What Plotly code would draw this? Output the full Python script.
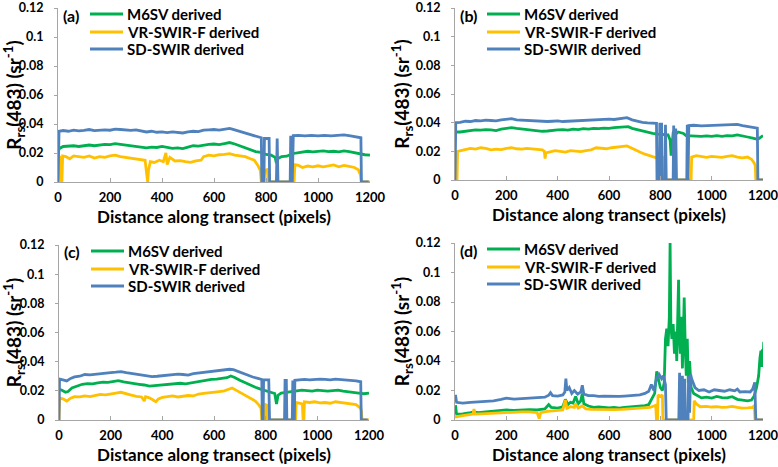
import plotly.graph_objects as go

# ---------------- data (x pixel along transect, Rrs(483)) ----------------
a_m6sv = [(0,0.019),(4,0.023),(20,0.0245),(40,0.0248),(60,0.025),(80,0.0245),(100,0.025),(120,0.0255),(140,0.025),(160,0.0255),(180,0.026),(200,0.0258),(220,0.0265),(240,0.026),(260,0.0255),(280,0.025),(300,0.0245),(320,0.024),(340,0.0235),(360,0.024),(380,0.0238),(400,0.0245),(420,0.024),(440,0.0232),(460,0.0235),(480,0.023),(500,0.024),(520,0.025),(540,0.0248),(560,0.0255),(580,0.026),(600,0.0262),(620,0.0258),(640,0.0265),(660,0.0272),(680,0.0262),(700,0.025),(720,0.0235),(740,0.0225),(760,0.021),(780,0.0205),(800,0.019),(820,0.0185),(835,0.017),(840,0.013),(845,0.016),(860,0.0175),(880,0.0178),(900,0.0195),(920,0.02),(940,0.0205),(960,0.0212),(980,0.0208),(1000,0.021),(1020,0.0215),(1040,0.021),(1060,0.0212),(1080,0.0208),(1100,0.0215),(1120,0.021),(1140,0.0202),(1160,0.0195),(1170,0.019),(1180,0.0188),(1200,0.0185)]
a_vr = [(0,0),(3,0.018),(8,0.017),(12,0),(15,0),(18,0.018),(30,0.0175),(45,0.016),(60,0.018),(80,0.0175),(100,0.017),(120,0.018),(140,0.0165),(160,0.0175),(180,0.017),(200,0.018),(220,0.0185),(240,0.0175),(260,0.017),(280,0.0168),(300,0.016),(320,0.0158),(335,0.015),(342,0.004),(345,0),(348,0.008),(355,0.014),(370,0.0135),(390,0.015),(405,0.014),(415,0.02),(420,0.012),(430,0.017),(450,0.0145),(470,0.0148),(490,0.014),(510,0.0135),(530,0.0145),(550,0.015),(560,0.0175),(580,0.0185),(600,0.018),(620,0.0188),(640,0.019),(660,0.0195),(680,0.0185),(700,0.018),(720,0.0175),(740,0.016),(755,0.015),(770,0.011),(778,0.008),(782,0),(792,0),(795,0.008),(805,0.0085),(808,0),(908,0),(911,0.012),(925,0.0115),(940,0.01),(960,0.011),(980,0.0105),(1000,0.0112),(1020,0.0105),(1040,0.011),(1060,0.0118),(1080,0.0105),(1100,0.0115),(1120,0.0108),(1140,0.01),(1155,0.0085),(1163,0.005),(1166,0),(1200,0)]
a_sd = [(0,0),(4,0.035),(20,0.0355),(40,0.035),(60,0.0358),(80,0.0352),(100,0.0356),(120,0.0362),(140,0.0355),(160,0.0358),(180,0.036),(200,0.0357),(220,0.0365),(240,0.0362),(260,0.0358),(280,0.0356),(300,0.036),(320,0.0352),(340,0.0345),(360,0.035),(380,0.0343),(400,0.0346),(420,0.034),(440,0.0345),(460,0.034),(480,0.0338),(500,0.0345),(520,0.035),(540,0.0348),(560,0.0358),(580,0.036),(600,0.0362),(620,0.0358),(640,0.0365),(660,0.037),(670,0.0365),(690,0.0355),(710,0.0345),(730,0.0335),(750,0.0325),(770,0.031),(782,0.0305),(784,0),(792,0),(794,0.03),(812,0.03),(814,0),(840,0),(843,0.03),(846,0),(893,0),(895,0.031),(899,0.031),(901,0),(905,0.032),(925,0.0322),(950,0.0318),(975,0.0322),(1000,0.0318),(1025,0.0322),(1050,0.0318),(1075,0.032),(1100,0.0325),(1125,0.0318),(1150,0.031),(1165,0.0305),(1167,0),(1195,0)]

b_m6sv = [(0,0.033),(5,0.0335),(20,0.0335),(40,0.034),(60,0.0345),(80,0.035),(100,0.0348),(120,0.0352),(140,0.035),(160,0.0345),(180,0.0355),(200,0.036),(220,0.0365),(240,0.036),(260,0.0355),(280,0.0352),(300,0.035),(320,0.0345),(340,0.034),(360,0.0342),(380,0.0348),(400,0.035),(420,0.0352),(440,0.0348),(460,0.0355),(480,0.0352),(500,0.0358),(520,0.0355),(540,0.036),(560,0.0358),(580,0.0362),(600,0.036),(620,0.0365),(640,0.0368),(660,0.037),(675,0.0372),(690,0.036),(710,0.035),(730,0.034),(750,0.0332),(770,0.0325),(790,0.032),(810,0.0318),(830,0.0315),(838,0.028),(842,0.017),(846,0.025),(850,0.033),(855,0.0345),(860,0.032),(870,0.0335),(880,0.033),(890,0.0325),(900,0.031),(920,0.0308),(940,0.031),(960,0.0305),(980,0.0308),(1000,0.0305),(1020,0.031),(1040,0.0305),(1060,0.031),(1080,0.0308),(1100,0.0315),(1120,0.0305),(1140,0.03),(1160,0.0292),(1175,0.0285),(1185,0.029),(1200,0.031)]
b_vr = [(0,0),(8,0),(10,0.02),(20,0.0205),(40,0.021),(60,0.022),(80,0.0215),(100,0.0225),(120,0.022),(140,0.021),(160,0.0215),(180,0.0212),(200,0.022),(220,0.0225),(240,0.0218),(260,0.0215),(280,0.022),(300,0.0218),(320,0.0212),(340,0.021),(348,0.02),(351,0.015),(354,0.019),(370,0.0195),(390,0.0205),(410,0.02),(430,0.0195),(450,0.0205),(470,0.0202),(490,0.0198),(510,0.0205),(530,0.021),(550,0.0225),(570,0.022),(590,0.0218),(610,0.0225),(630,0.0228),(650,0.0232),(670,0.0238),(685,0.0225),(700,0.021),(720,0.0195),(740,0.018),(760,0.017),(780,0.016),(795,0.0148),(800,0.014),(802,0),(812,0),(814,0.016),(818,0.016),(820,0),(920,0),(922,0.016),(940,0.017),(960,0.0165),(980,0.0158),(1000,0.0165),(1020,0.016),(1040,0.0158),(1060,0.0165),(1080,0.017),(1100,0.016),(1120,0.0155),(1140,0.016),(1155,0.0145),(1165,0.012),(1170,0.01),(1172,0),(1200,0)]
b_sd = [(0,0),(3,0.04),(20,0.0402),(40,0.041),(60,0.0408),(80,0.0415),(100,0.0412),(120,0.0418),(140,0.0415),(160,0.0412),(180,0.042),(200,0.0425),(220,0.0428),(240,0.042),(260,0.0418),(280,0.0415),(300,0.0412),(320,0.041),(340,0.0405),(360,0.0408),(380,0.041),(400,0.0412),(420,0.0408),(440,0.041),(460,0.0412),(480,0.0415),(500,0.0418),(520,0.042),(540,0.0418),(560,0.042),(580,0.0422),(600,0.0425),(620,0.0422),(640,0.0428),(660,0.043),(670,0.0435),(690,0.042),(710,0.041),(730,0.0402),(750,0.0398),(770,0.0395),(785,0.0395),(787,0),(796,0),(798,0.039),(805,0.039),(807,0),(818,0),(820,0.0385),(823,0),(850,0),(852,0.038),(855,0),(860,0.036),(863,0),(903,0),(905,0.0385),(908,0),(911,0.038),(930,0.0382),(960,0.0378),(990,0.038),(1020,0.0378),(1050,0.0382),(1080,0.0385),(1100,0.0388),(1120,0.038),(1140,0.0372),(1160,0.0368),(1178,0.0362),(1180,0),(1200,0)]

c_m6sv = [(0,0.021),(10,0.0205),(25,0.019),(35,0.0195),(50,0.022),(70,0.0235),(90,0.0245),(110,0.025),(130,0.0248),(150,0.0255),(170,0.026),(190,0.0258),(210,0.0265),(230,0.027),(250,0.0262),(270,0.0258),(290,0.025),(310,0.0245),(330,0.024),(350,0.0232),(370,0.0235),(390,0.0238),(410,0.0245),(430,0.0248),(450,0.025),(470,0.0252),(490,0.0248),(510,0.0255),(530,0.026),(550,0.0268),(570,0.0275),(590,0.0278),(610,0.028),(630,0.0285),(650,0.029),(665,0.0302),(680,0.0292),(700,0.0272),(720,0.0255),(740,0.0238),(760,0.0225),(780,0.0212),(800,0.02),(820,0.0192),(835,0.0182),(842,0.011),(848,0.017),(860,0.0185),(880,0.019),(900,0.0198),(920,0.02),(940,0.0205),(960,0.0202),(980,0.0198),(1000,0.0205),(1020,0.02),(1040,0.0198),(1060,0.0202),(1080,0.0205),(1100,0.0198),(1120,0.0195),(1140,0.019),(1160,0.0185),(1180,0.018),(1200,0.0185)]
c_vr = [(0,0),(2,0.015),(15,0.0145),(30,0.013),(45,0.015),(60,0.016),(80,0.0158),(100,0.0165),(120,0.016),(140,0.017),(160,0.0175),(180,0.0172),(200,0.018),(220,0.0185),(240,0.019),(260,0.0178),(280,0.017),(300,0.0162),(320,0.0158),(330,0.013),(335,0.016),(350,0.0152),(365,0.0135),(375,0.0125),(385,0.0145),(400,0.0155),(420,0.016),(440,0.0165),(460,0.0158),(480,0.0162),(500,0.0168),(520,0.0165),(540,0.0178),(560,0.0182),(580,0.0188),(600,0.019),(620,0.0195),(640,0.02),(660,0.0215),(670,0.022),(685,0.0205),(700,0.019),(720,0.0175),(740,0.0155),(760,0.013),(775,0.01),(782,0.008),(785,0),(798,0),(800,0.0105),(806,0.01),(808,0),(916,0),(918,0.012),(930,0.0115),(942,0.011),(945,0),(948,0),(950,0.0125),(970,0.012),(990,0.0125),(1010,0.0118),(1030,0.012),(1050,0.0115),(1070,0.0125),(1090,0.012),(1110,0.0118),(1130,0.0115),(1150,0.0105),(1165,0.0085),(1170,0.007),(1173,0),(1200,0)]
c_sd = [(0,0),(2,0.028),(15,0.0275),(30,0.0268),(45,0.0285),(60,0.0295),(80,0.03),(100,0.0312),(120,0.031),(140,0.0315),(160,0.0318),(180,0.032),(200,0.0325),(220,0.0328),(240,0.0332),(260,0.0325),(280,0.032),(300,0.031),(320,0.0305),(340,0.0302),(360,0.0298),(380,0.03),(400,0.0305),(420,0.0308),(440,0.031),(460,0.0315),(480,0.0312),(500,0.0308),(520,0.0318),(540,0.0322),(560,0.033),(580,0.0335),(600,0.0338),(620,0.034),(640,0.0342),(660,0.0348),(675,0.0345),(690,0.0335),(710,0.032),(730,0.0305),(750,0.0295),(770,0.0285),(785,0.0278),(787,0),(790,0),(792,0.0275),(812,0.0275),(815,0),(873,0),(875,0.0272),(880,0.0272),(882,0),(903,0),(905,0.027),(908,0),(911,0),(913,0.0272),(930,0.0275),(950,0.0278),(970,0.0275),(990,0.0278),(1010,0.028),(1030,0.0278),(1050,0.0275),(1070,0.028),(1090,0.0278),(1110,0.0275),(1130,0.0272),(1150,0.0268),(1168,0.0262),(1170,0),(1195,0)]

d_m6sv = [(0,0.004),(2,0.01),(6,0.004),(30,0.0042),(60,0.005),(75,0.0055),(90,0.005),(120,0.0055),(150,0.006),(180,0.0062),(200,0.0068),(230,0.0065),(260,0.0068),(290,0.007),(320,0.0068),(350,0.0075),(365,0.0105),(375,0.0085),(400,0.008),(420,0.009),(430,0.014),(440,0.0105),(450,0.012),(460,0.0115),(470,0.016),(480,0.011),(490,0.013),(496,0.018),(502,0.011),(520,0.0095),(540,0.0085),(560,0.0088),(580,0.0085),(600,0.0082),(620,0.0085),(640,0.008),(660,0.0085),(680,0.0088),(700,0.009),(720,0.0092),(740,0.0098),(755,0.0105),(768,0.015),(778,0.018),(786,0.033),(792,0.028),(800,0.022),(808,0.02),(815,0.025),(820,0.055),(825,0.062),(830,0.05),(835,0.07),(838,0.12),(841,0.065),(845,0.055),(850,0.065),(855,0.045),(860,0.06),(864,0.04),(868,0.07),(871,0.095),(874,0.06),(878,0.045),(882,0.07),(886,0.035),(890,0.06),(893,0.083),(897,0.05),(901,0.03),(905,0.055),(909,0.025),(914,0.04),(920,0.022),(930,0.018),(945,0.0165),(960,0.015),(980,0.0155),(1000,0.0148),(1020,0.016),(1040,0.0152),(1060,0.015),(1080,0.0158),(1100,0.014),(1120,0.0135),(1140,0.013),(1155,0.0135),(1165,0.016),(1175,0.022),(1183,0.03),(1188,0.042),(1192,0.047),(1195,0.036),(1198,0.048),(1200,0.04),(1203,0.053)]
d_vr = [(0,0.002),(10,0.0025),(30,0.003),(50,0.0035),(70,0.004),(74,0.0075),(78,0.004),(100,0.0042),(130,0.0045),(160,0.0048),(200,0.005),(230,0.0052),(260,0.0055),(290,0.0055),(320,0.005),(328,0.001),(334,0.005),(360,0.0058),(380,0.006),(400,0.0062),(420,0.0068),(430,0.0135),(436,0.008),(450,0.009),(465,0.0085),(470,0.011),(480,0.008),(495,0.0095),(510,0.0075),(530,0.0072),(560,0.007),(590,0.0072),(620,0.007),(650,0.0072),(680,0.0075),(710,0.0075),(740,0.008),(760,0.0085),(775,0.0095),(782,0.01),(785,0),(789,0),(791,0.017),(800,0.016),(808,0.017),(810,0),(930,0),(932,0.013),(940,0.011),(955,0.009),(980,0.0092),(1000,0.0088),(1020,0.009),(1040,0.0085),(1060,0.0088),(1080,0.0092),(1100,0.0085),(1120,0.008),(1140,0.0082),(1160,0.0085),(1166,0.01),(1169,0),(1200,0)]
d_sd = [(0,0.012),(2,0.017),(6,0.012),(30,0.0115),(60,0.012),(90,0.0122),(120,0.0128),(150,0.013),(180,0.014),(200,0.0148),(230,0.0142),(260,0.0145),(290,0.015),(320,0.0148),(350,0.0155),(365,0.0168),(372,0.0185),(380,0.0165),(400,0.0162),(420,0.017),(428,0.019),(432,0.028),(436,0.02),(445,0.022),(455,0.018),(465,0.02),(478,0.0175),(490,0.019),(496,0.0235),(502,0.0175),(520,0.0165),(540,0.0165),(560,0.016),(580,0.0162),(600,0.016),(620,0.0158),(640,0.016),(660,0.0162),(680,0.0165),(700,0.0165),(720,0.017),(740,0.018),(755,0.0195),(765,0.024),(775,0.02),(785,0.028),(795,0.031),(805,0.028),(812,0.03),(820,0.024),(823,0),(872,0),(875,0.032),(878,0),(884,0),(886,0.03),(890,0),(895,0.028),(898,0),(908,0),(910,0.03),(914,0.005),(918,0.031),(922,0.028),(928,0.025),(935,0.022),(950,0.02),(970,0.0205),(990,0.019),(1010,0.0205),(1030,0.02),(1050,0.0195),(1070,0.0205),(1090,0.0198),(1100,0.021),(1110,0.019),(1130,0.0192),(1150,0.019),(1160,0.021),(1168,0.0255),(1172,0),(1200,0)]

series_names = ["M6SV derived", "VR-SWIR-F derived", "SD-SWIR derived"]
series_colors = ["#00B050", "#FFC000", "#4F81BD"]
panel_labels = ["(a)", "(b)", "(c)", "(d)"]
panels = [[a_m6sv, a_vr, a_sd], [b_m6sv, b_vr, b_sd], [c_m6sv, c_vr, c_sd], [d_m6sv, d_vr, d_sd]]
x_ticks = [0, 200, 400, 600, 800, 1000, 1200]
y_ticks = [0, 0.02, 0.04, 0.06, 0.08, 0.1, 0.12]
y_ticktext = ["0", "0.02", "0.04", "0.06", "0.08", "0.1", "0.12"]

# ---------------- layout geometry (pixels) ----------------
W, H = 778, 467
boxes = [(58, 370, 8, 182), (455, 763, 8, 180), (59, 369, 245, 420), (455, 763, 243, 420)]
LEG_ROWS = [6, 24, 41]      # legend row offsets below plot top (px)
LEG_LINE = (32, 65)         # legend sample line offsets from plot left (px)
LEG_TEXT = 67

FONT = "Lato"
LINE_W = 2.8
fig = go.Figure()
layout = dict(
    width=W, height=H, margin=dict(l=0, r=0, t=0, b=0, autoexpand=False),
    paper_bgcolor="white", plot_bgcolor="white",
    font=dict(family=FONT, color="black", weight="bold"),
    showlegend=False, annotations=[], shapes=[],
)

def px_x(v):
    return v / W

def px_y(v):
    return 1 - v / H

for i, series in enumerate(panels):
    k = "" if i == 0 else str(i + 1)
    for s, pts in enumerate(series):
        xs = [p[0] for p in pts]
        ys = [p[1] for p in pts]
        fig.add_trace(go.Scatter(
            x=xs, y=ys, mode="lines", name=series_names[s],
            line=dict(color=series_colors[s], width=LINE_W),
            xaxis="x" + k, yaxis="y" + k,
        ))
    l, r, t, b = boxes[i]
    layout["xaxis" + k] = dict(
        domain=[l / W, r / W], anchor="y" + k, range=[0, 1200],
        tickvals=x_ticks, ticks="inside", ticklen=4, tickcolor="#A6A6A6",
        showline=True, linecolor="#A6A6A6", linewidth=1, showgrid=False, zeroline=False,
        tickfont=dict(size=13, family=FONT, weight="bold"), ticklabelstandoff=3,
        ticklabeloverflow="allow",
        title=dict(text="Distance along transect (pixels)", font=dict(size=17, family=FONT, weight="bold"), standoff=7),
    )
    layout["yaxis" + k] = dict(
        domain=[1 - b / H, 1 - t / H], anchor="x" + k, range=[0, 0.12],
        tickvals=y_ticks, ticktext=y_ticktext, ticks="outside", ticklen=3, tickcolor="#A6A6A6",
        showline=True, linecolor="#A6A6A6", linewidth=1, showgrid=False, zeroline=False,
        tickfont=dict(size=12.5, family=FONT, weight="bold"), ticklabelstandoff=8,
        ticklabeloverflow="allow",
        title=dict(text="R<sub>rs</sub>(483) (sr<sup>-1</sup>)", font=dict(size=19, family=FONT, weight="bold"), standoff=1),
    )
    # legend (line sample + label) inside each panel
    for s in range(3):
        yy = px_y(t + LEG_ROWS[s])
        layout["shapes"].append(dict(
            type="line", xref="paper", yref="paper",
            x0=px_x(l + LEG_LINE[0]), x1=px_x(l + LEG_LINE[1]), y0=yy, y1=yy,
            line=dict(color=series_colors[s], width=LINE_W),
        ))
        layout["annotations"].append(dict(
            text=series_names[s], xref="paper", yref="paper", x=px_x(l + LEG_TEXT), y=yy,
            xanchor="left", yanchor="middle", showarrow=False,
            font=dict(size=15, family=FONT, weight="bold"),
        ))
    layout["annotations"].append(dict(
        text=panel_labels[i], xref="paper", yref="paper", x=px_x(l + 3), y=px_y(t + 7),
        xanchor="left", yanchor="middle", showarrow=False,
        font=dict(size=16, family=FONT, weight="bold"),
    ))

fig.update_layout(**layout)
fig.write_html(
    "out.html",
    config={"displayModeBar": False},
    post_script="document.body.style.margin='0px';document.body.style.overflow='hidden';",
)
